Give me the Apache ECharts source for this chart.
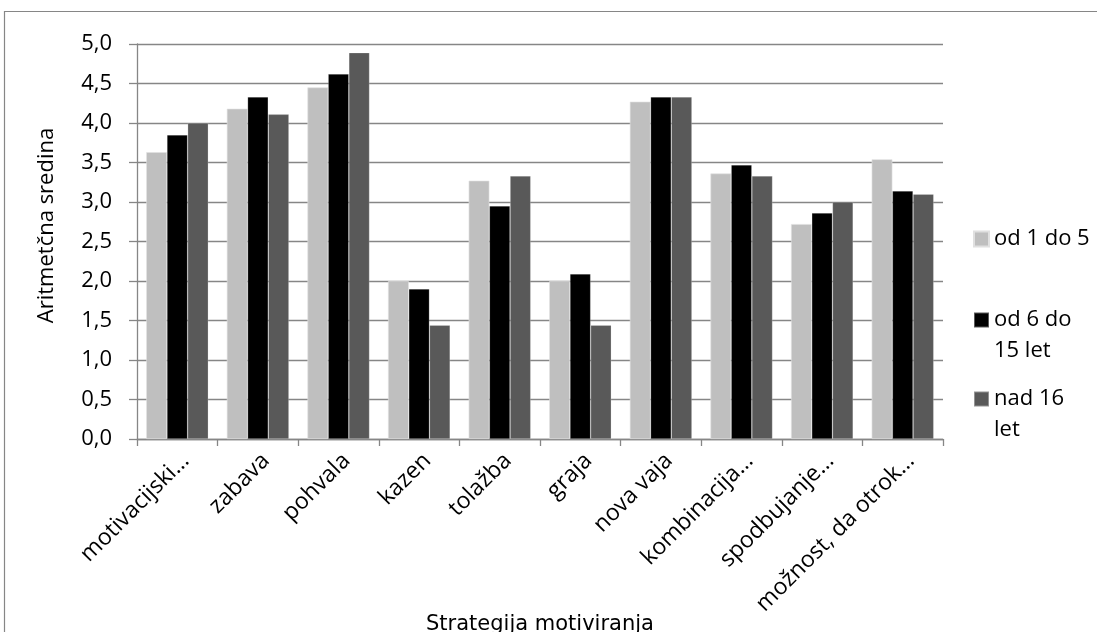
<!DOCTYPE html>
<html>
<head>
<meta charset="utf-8">
<script src="https://cdn.jsdelivr.net/npm/echarts@6/dist/echarts.min.js"></script>
<style>html,body{margin:0;padding:0;background:#fff}#c{width:1097px;height:632px}</style>
</head>
<body>
<div id="c"></div>
<script>
const categories = ["motivacijski…", "zabava", "pohvala", "kazen", "tolažba", "graja", "nova vaja", "kombinacija…", "spodbujanje…", "možnost, da otrok…"];
const seriesNames = ["od 1 do 5", "od 6 do 15 let", "nad 16 let"];
const legendLabels = ["od 1 do 5", "\u00a0\nod 6 do\n15 let", "\u00a0\nnad 16\nlet"];
const values1to5 = [3.63, 4.18, 4.45, 2.00, 3.27, 2.00, 4.27, 3.36, 2.72, 3.54];
const values6to15 = [3.85, 4.33, 4.62, 1.90, 2.95, 2.09, 4.33, 3.47, 2.86, 3.14];
const valuesOver16 = [4.00, 4.11, 4.89, 1.44, 3.33, 1.44, 4.33, 3.33, 3.00, 3.10];
const yTicks = [0, 0.5, 1, 1.5, 2, 2.5, 3, 3.5, 4, 4.5, 5];
const yAxisTitle = "Aritmetčna sredina";
const xAxisTitle = "Strategija motiviranja";

const colors = ["#BFBFBF", "#000000", "#595959"];
const allValues = [values1to5, values6to15, valuesOver16];
const gridColor = "#868686";
const font = "'Open Sans', sans-serif";

const chart = echarts.init(document.getElementById('c'), null, {renderer: 'canvas'});

const legendTops = [223.5, 273.5, 352.5];
const legends = seriesNames.map((n, i) => ({
  show: true,
  orient: 'vertical',
  left: 973,
  top: legendTops[i],
  padding: 0,
  itemWidth: 15,
  itemHeight: 15,
  icon: 'rect',
  data: [n],
  formatter: () => legendLabels[i],
  textStyle: {fontFamily: font, fontSize: 22, color: '#000', lineHeight: 31},
  selectedMode: false
}));

chart.setOption({
  animation: false,
  backgroundColor: '#fff',
  color: colors,
  graphic: [{
    type: 'rect', silent: true, z: -1,
    shape: {x: 4.5, y: 11.5, width: 1200, height: 800},
    style: {fill: 'none', stroke: gridColor, lineWidth: 1.2}
  }],
  legend: legends,
  grid: {left: 137, right: 154, top: 44, bottom: 193, containLabel: false, outerBoundsMode: 'none'},
  xAxis: {
    type: 'category',
    data: categories,
    name: xAxisTitle,
    nameLocation: 'middle',
    nameGap: 175,
    nameMoveOverlap: false,
    nameTextStyle: {fontFamily: "'DejaVu Sans', sans-serif", fontSize: 21, color: '#000'},
    axisLine: {lineStyle: {color: gridColor, width: 1.3}},
    axisTick: {show: true, alignWithLabel: false, length: 7, lineStyle: {color: gridColor, width: 1.3}},
    axisLabel: {rotate: 45, interval: 0, margin: 10, verticalAlign: 'top', fontFamily: font, fontSize: 23, color: '#000'}
  },
  yAxis: {
    type: 'value',
    min: 0, max: 5, interval: 0.5,
    name: yAxisTitle,
    nameLocation: 'middle',
    nameGap: 79,
    nameRotate: 90,
    nameTextStyle: {fontFamily: font, fontSize: 22, color: '#000', padding: [0, 0, 0, 32]},
    axisLine: {show: true, lineStyle: {color: gridColor, width: 1.3}},
    axisTick: {show: true, length: 8, lineStyle: {color: gridColor, width: 1.3}},
    splitLine: {show: true, lineStyle: {color: gridColor, width: 1.3}},
    axisLabel: {
      margin: 25, fontFamily: font, fontSize: 22, color: '#000',
      customValues: yTicks,
      formatter: v => v.toFixed(1).replace('.', ',')
    }
  },
  series: seriesNames.map((n, i) => ({
    name: n,
    type: 'bar',
    data: allValues[i],
    barGap: '0%',
    barCategoryGap: '23%',
    itemStyle: {color: colors[i], borderColor: i === 0 ? '#e0e0e0' : 'rgba(255,255,255,0.35)', borderWidth: 0.6}
  }))
});
</script>
</body>
</html>
